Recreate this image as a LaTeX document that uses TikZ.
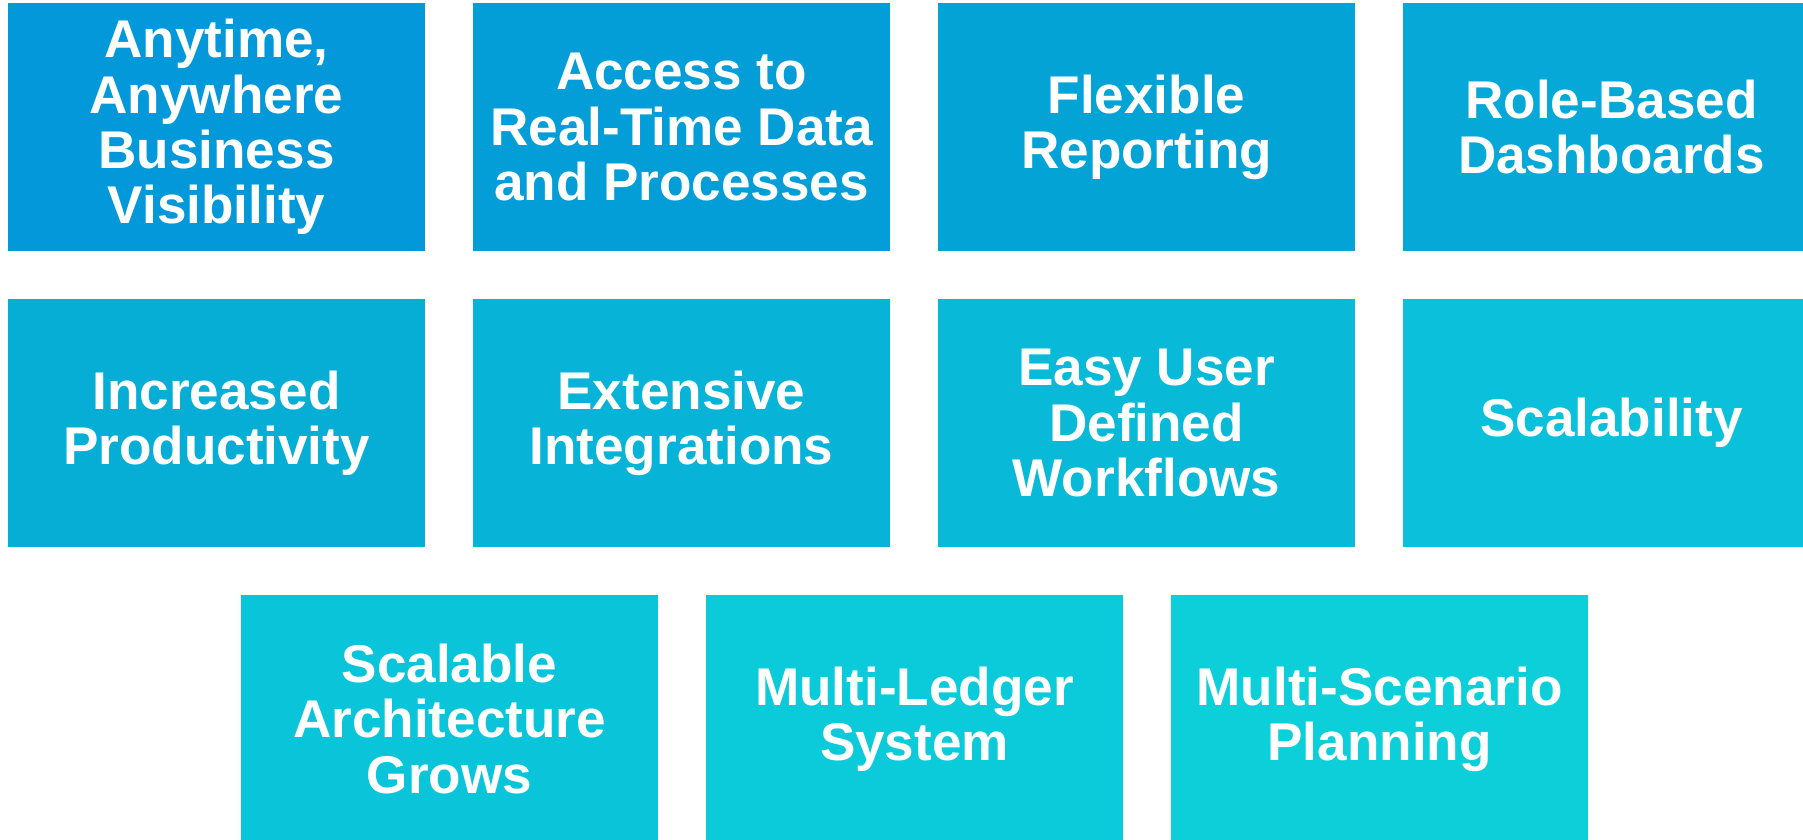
\documentclass[tikz,border=0pt]{standalone}
\usepackage{fontspec}
\setmainfont{Liberation Sans}

\definecolor{tileA}{HTML}{0398D9}
\definecolor{tileB}{HTML}{039DD8}
\definecolor{tileC}{HTML}{04A3D6}
\definecolor{tileD}{HTML}{05A8D6}
\definecolor{tileE}{HTML}{06AED6}
\definecolor{tileF}{HTML}{07B3D7}
\definecolor{tileG}{HTML}{08B9D8}
\definecolor{tileH}{HTML}{0AC0DA}
\definecolor{tileI}{HTML}{0AC5DA}
\definecolor{tileJ}{HTML}{0BCADA}
\definecolor{tileK}{HTML}{0DCFDA}

\tikzset{
  tile/.style={rectangle, inner sep=0pt, minimum width=4.17cm, minimum height=2.48cm,
    align=center, text=white, font=\fontsize{15.1pt}{15.7pt}\selectfont\bfseries}
}

\begin{document}
\begin{tikzpicture}[x=0.01cm, y=-0.01cm]
% Set the page size (pixels of the reference)
\useasboundingbox (0,0) rectangle (1803,839);

% First row
\node[tile, fill=tileA] (anytime) at (216.5, 127) {Anytime,\\Anywhere\\Business\\Visibility};
\node[tile, fill=tileB] (access) at (681.5, 127) {Access to\\Real-Time Data\\and Processes};
\node[tile, fill=tileC] (reporting) at (1146.5, 127) {Flexible\\Reporting};
\node[tile, fill=tileD] (dashboards) at (1611.5, 127) {Role-Based\\Dashboards};

% Second row
\node[tile, fill=tileE] (productivity) at (216.5, 423) {Increased\\Productivity};
\node[tile, fill=tileF] (integrations) at (681.5, 423) {Extensive\\Integrations};
\node[tile, fill=tileG] (workflows) at (1146.5, 423) {Easy User\\Defined\\Workflows};
\node[tile, fill=tileH] (scalability) at (1611.5, 423) {Scalability};

% Third row
\node[tile, fill=tileI] (architecture) at (449.5, 719) {Scalable\\Architecture\\Grows};
\node[tile, fill=tileJ] (ledger) at (914.5, 719) {Multi-Ledger\\System};
\node[tile, fill=tileK] (planning) at (1379.5, 719) {Multi-Scenario\\Planning};
\end{tikzpicture}
\end{document}
